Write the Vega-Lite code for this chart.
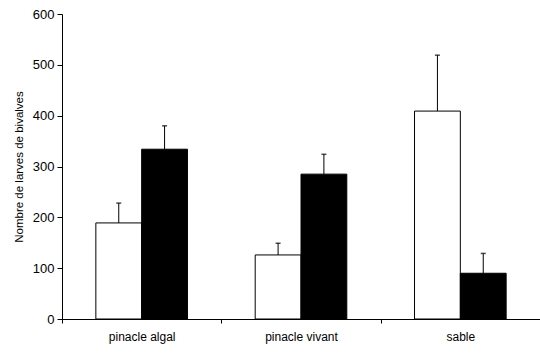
{
  "$schema": "https://vega.github.io/schema/vega-lite/v6.json",
  "autosize": {"type": "none"},
  "width": 478,
  "height": 305,
  "padding": {"left": 62, "top": 14, "right": 0, "bottom": 34},
  "background": "white",
  "config": {
    "view": {"stroke": null},
    "font": "Liberation Sans",
    "axis": {"grid": false, "domainColor": "black", "tickColor": "black", "labelColor": "black", "titleColor": "black", "labelFont": "Liberation Sans", "titleFont": "Liberation Sans"}
  },
  "data": {
    "values": [
      {"site": "pinacle algal", "groupe": "A", "val": 189, "hi": 228},
      {"site": "pinacle algal", "groupe": "B", "val": 334, "hi": 380},
      {"site": "pinacle vivant", "groupe": "A", "val": 126, "hi": 149},
      {"site": "pinacle vivant", "groupe": "B", "val": 285, "hi": 324},
      {"site": "sable", "groupe": "A", "val": 409, "hi": 519},
      {"site": "sable", "groupe": "B", "val": 90, "hi": 129}
    ]
  },
  "encoding": {
    "x": {
      "field": "site", "type": "nominal", "sort": null,
      "scale": {"paddingInner": 0, "paddingOuter": 0},
      "axis": {"title": null, "labelAngle": 0, "tickBand": "extent", "tickSize": 4, "labelPadding": 8, "labelFontSize": 12, "domainWidth": 1}
    },
    "xOffset": {
      "field": "groupe", "type": "nominal",
      "scale": {"paddingInner": 0, "paddingOuter": 0.739}
    }
  },
  "layer": [
    {
      "mark": {"type": "rule", "color": "black", "strokeWidth": 1},
      "encoding": {
        "y": {"field": "val", "type": "quantitative"},
        "y2": {"field": "hi"}
      }
    },
    {
      "mark": {"type": "tick", "orient": "horizontal", "size": 5, "thickness": 1.5, "color": "black"},
      "encoding": {
        "y": {"field": "hi", "type": "quantitative"}
      }
    },
    {
      "mark": {"type": "bar", "stroke": "black", "strokeWidth": 1},
      "encoding": {
        "y": {
          "field": "val", "type": "quantitative",
          "scale": {"domain": [0, 600]},
          "axis": {"title": "Nombre de larves de bivalves", "values": [0, 100, 200, 300, 400, 500, 600], "tickSize": 5, "labelPadding": 3, "labelFontSize": 13, "titleFontSize": 11.5, "titleFontWeight": "normal", "titlePadding": 8}
        },
        "fill": {
          "field": "groupe", "type": "nominal",
          "scale": {"domain": ["A", "B"], "range": ["white", "black"]},
          "legend": null
        }
      }
    }
  ]
}
